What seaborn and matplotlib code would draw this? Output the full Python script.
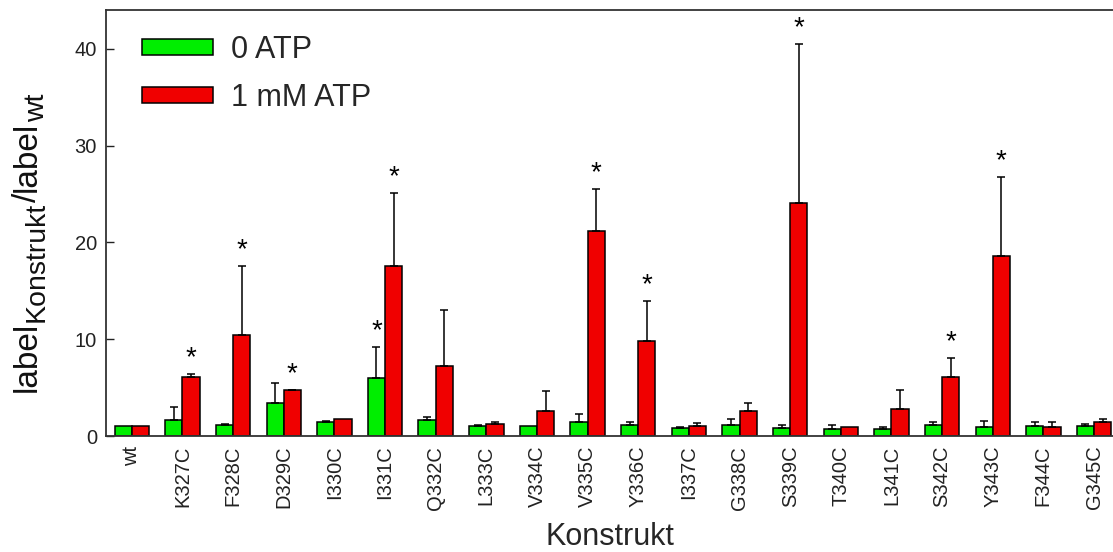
import matplotlib
matplotlib.use("Agg")
import matplotlib.pyplot as plt
from matplotlib.transforms import IdentityTransform
import seaborn as sns
import pandas as pd

categories = ["wt", "K327C", "F328C", "D329C", "I330C", "I331C", "Q332C", "L333C",
              "V334C", "V335C", "Y336C", "I337C", "G338C", "S339C", "T340C",
              "L341C", "S342C", "Y343C", "F344C", "G345C"]
atp0 = [1.0, 1.7, 1.1, 3.4, 1.4, 6.0, 1.7, 1.0, 1.0, 1.4, 1.1, 0.8, 1.1, 0.8, 0.7,
        0.7, 1.1, 0.9, 1.0, 1.0]
atp0_err_top = [1.0, 3.0, 1.2, 5.5, 1.5, 9.2, 2.0, 1.1, 1.0, 2.3, 1.4, 0.9, 1.8, 1.1, 1.1,
                0.9, 1.4, 1.5, 1.4, 1.2]
atp1 = [1.0, 6.1, 10.4, 4.7, 1.8, 17.6, 7.2, 1.2, 2.6, 21.2, 9.8, 1.0, 2.6, 24.1, 0.9,
        2.8, 6.1, 18.6, 0.9, 1.4]
atp1_err_top = [1.0, 6.4, 17.6, 4.8, 1.8, 25.1, 13.0, 1.4, 4.6, 25.5, 13.9, 1.3, 3.4, 40.5, 0.95,
                4.8, 8.1, 26.8, 1.4, 1.8]
star0 = ["I331C"]
star1 = ["K327C", "F328C", "D329C", "I331C", "V335C", "Y336C", "S339C", "S342C", "Y343C"]
series = ["0 ATP", "1 mM ATP"]
colors = ["#00ee00", "#f00000"]
ylabel_parts = [("label", False), ("Konstrukt", True), ("/", False), ("label", False), ("wt", True)]

sns.set_theme(style="white")
plt.rcParams["font.family"] = ["Liberation Sans", "DejaVu Sans"]

df = pd.DataFrame({
    "Konstrukt": categories * 2,
    "value": atp0 + atp1,
    "cond": [series[0]] * len(categories) + [series[1]] * len(categories),
})

W, H = 1113, 552
fig = plt.figure(figsize=(W / 100, H / 100), dpi=100)
ax = fig.add_axes([106 / W, 1 - 436 / H, 1 - 106 / W, (436 - 10) / H])

sns.barplot(data=df, x="Konstrukt", y="value", hue="cond", palette=colors,
            width=0.68, gap=0, errorbar=None, edgecolor="black", linewidth=1.1,
            saturation=1, ax=ax)

tops = [atp0_err_top, atp1_err_top]
stars = [star0, star1]
for ci, cont in enumerate(ax.containers[:2]):
    for i, bar in enumerate(cont):
        xc = bar.get_x() + bar.get_width() / 2
        h = bar.get_height()
        up = max(tops[ci][i] - h, 0)
        if up > 0.05:
            ax.errorbar(xc, h, yerr=[[0], [up]], fmt="none", ecolor="black",
                        elinewidth=1.1, capsize=2.8, capthick=1.1, zorder=1)
        if categories[i] in stars[ci]:
            ax.annotate("*", (xc, max(tops[ci][i], h)), xytext=(0, 2),
                        textcoords="offset points", ha="center", va="bottom",
                        fontsize=20, color="black")

ax.set_xlim(-0.51, 19.375)
ax.set_ylim(0, 44)
ax.set_yticks([0, 10, 20, 30, 40])
ax.tick_params(axis="y", direction="in", length=6, width=1, pad=6.5, labelsize=14.5,
               left=True, colors="#222222")
ax.tick_params(axis="x", length=0, pad=7, labelsize=14.5, labelrotation=90,
               colors="#222222")
for s in ["top", "left", "bottom"]:
    ax.spines[s].set_visible(True)
    ax.spines[s].set_color("#333333")
    ax.spines[s].set_linewidth(1.3)
ax.spines["right"].set_visible(False)

ax.set_xlabel("Konstrukt", fontsize=22, labelpad=9)
ax.set_ylabel("")

handles, labels = ax.get_legend_handles_labels()
ax.legend(handles, labels, loc="upper left", bbox_to_anchor=(0.036, 0.942),
          frameon=False, fontsize=22, handlelength=2.32, handleheight=0.43,
          handletextpad=0.6, labelspacing=0.6, borderpad=0, borderaxespad=0)

# y label built from pieces (main text and larger-than-default subscripts)
renderer = fig.canvas.get_renderer()
main_fs, sub_fs = 24, 20.5
base_x, sub_shift = 36, 8
texts = []
for s, is_sub in ylabel_parts:
    t = fig.text(base_x + (sub_shift if is_sub else 0), 0, s, rotation=90,
                 rotation_mode="anchor", ha="left", va="baseline",
                 fontsize=sub_fs if is_sub else main_fs, color="#111111",
                 transform=IdentityTransform())
    texts.append(t)
lengths = [t.get_window_extent(renderer).height for t in texts]
total = sum(lengths)
center_y = H - 243
y = center_y - total / 2
for t, L in zip(texts, lengths):
    x0 = t.get_position()[0]
    t.set_position((x0, y))
    y += L

fig.savefig("out.png", dpi=100)
